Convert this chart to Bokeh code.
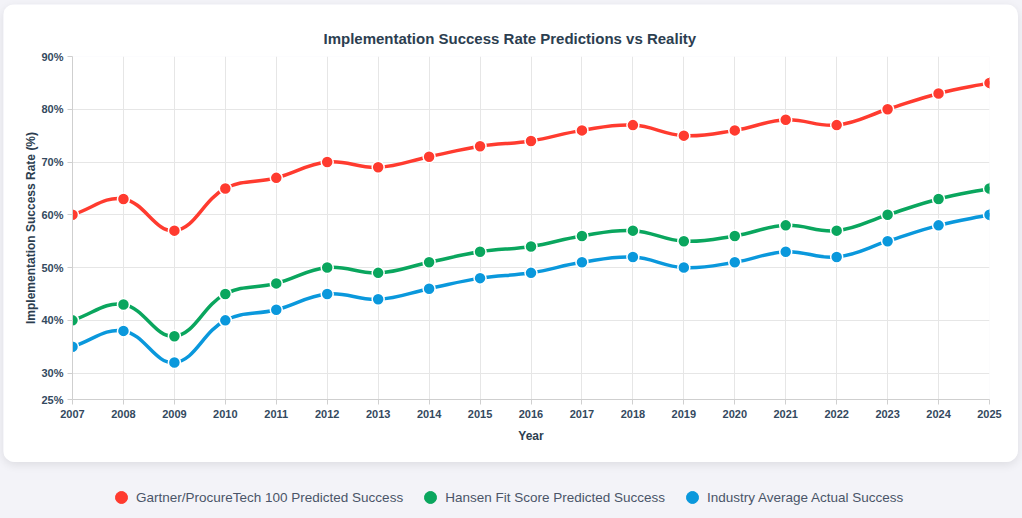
import numpy as np
from bokeh.plotting import figure
from bokeh.models import (Range1d, FixedTicker, PrintfTickFormatter, Legend,
                          LegendItem, ColumnDataSource)
from bokeh.layouts import column
from bokeh.embed import file_html
from bokeh.resources import INLINE

# ---------------- data ----------------
years = list(range(2007, 2026))
gartner = [60, 63, 57, 65, 67, 70, 69, 71, 73, 74, 76, 77, 75, 76, 78, 77, 80, 83, 85]
hansen = [40, 43, 37, 45, 47, 50, 49, 51, 53, 54, 56, 57, 55, 56, 58, 57, 60, 63, 65]
industry = [35, 38, 32, 40, 42, 45, 44, 46, 48, 49, 51, 52, 50, 51, 53, 52, 55, 58, 60]
y_ticks = [25, 30, 40, 50, 60, 70, 80, 90]
series_names = ["Gartner/ProcureTech 100 Predicted Success",
                "Hansen Fit Score Predicted Success",
                "Industry Average Actual Success"]
series_values = [gartner, hansen, industry]
colors = ["#FF3B2F", "#0AA65E", "#0A98DC"]

PAGE_BG = "#f3f3f8"
FONT = "Liberation Sans"

FRAME_W, FRAME_H = 917, 343
KX = FRAME_W / (years[-1] - years[0])
KY = FRAME_H / (y_ticks[-1] - y_ticks[0])


def spline_segments(xs, ys, tension=0.4):
    """Cardinal-style (Chart.js) bezier control points, computed in pixel space."""
    px = np.asarray(xs, float) * KX
    py = np.asarray(ys, float) * KY
    n = len(px)
    prv = np.zeros((n, 2))
    nxt = np.zeros((n, 2))
    for i in range(n):
        f = (px[i - 1], py[i - 1]) if i > 0 else (px[i], py[i])
        a = (px[i + 1], py[i + 1]) if i < n - 1 else (px[i], py[i])
        d01 = np.hypot(px[i] - f[0], py[i] - f[1])
        d12 = np.hypot(a[0] - px[i], a[1] - py[i])
        tot = d01 + d12
        s01 = d01 / tot if tot else 0.0
        s12 = d12 / tot if tot else 0.0
        fa, fb = tension * s01, tension * s12
        prv[i] = (px[i] - fa * (a[0] - f[0]), py[i] - fa * (a[1] - f[1]))
        nxt[i] = (px[i] + fb * (a[0] - f[0]), py[i] + fb * (a[1] - f[1]))
    return dict(
        x0=px[:-1] / KX, y0=py[:-1] / KY,
        x1=px[1:] / KX, y1=py[1:] / KY,
        cx0=nxt[:-1, 0] / KX, cy0=nxt[:-1, 1] / KY,
        cx1=prv[1:, 0] / KX, cy1=prv[1:, 1] / KY,
    )


# ---------------- chart (card) ----------------
p = figure(width=1015, height=458, output_backend="svg", toolbar_location=None,
           x_range=Range1d(years[0], years[-1]), y_range=Range1d(y_ticks[0], y_ticks[-1]),
           min_border_left=69, min_border_right=29, min_border_top=52, min_border_bottom=63,
           border_fill_color="white", background_fill_color="white",
           outline_line_color=None)
p.margin = (4, 4, 0, 3)
p.styles = {"border-radius": "12px", "overflow": "hidden",
            "box-shadow": "0 3px 10px rgba(0,0,0,0.09)"}

p.title.text = "Implementation Success Rate Predictions vs Reality"
p.title.align = "left"
p.title.offset = 251
p.title.text_font = FONT
p.title.text_font_size = "15px"
p.title.text_font_style = "bold"
p.title.text_color = "#2c3e50"
p.title.standoff = 20

p.xaxis.ticker = FixedTicker(ticks=years)
p.yaxis.ticker = FixedTicker(ticks=y_ticks)
p.yaxis.formatter = PrintfTickFormatter(format="%d%%")
p.xaxis.axis_label = "Year"
p.yaxis.axis_label = "Implementation Success Rate (%)"
for ax in (p.xaxis, p.yaxis):
    ax.major_label_text_font = FONT
    ax.major_label_text_font_size = "11px"
    ax.major_label_text_font_style = "bold"
    ax.major_label_text_color = "#34495e"
    ax.axis_label_text_font = FONT
    ax.axis_label_text_font_size = "12px"
    ax.axis_label_text_font_style = "bold"
    ax.axis_label_text_color = "#2c3e50"
    ax.axis_line_color = "#cfcfcf"
    ax.major_tick_line_color = "#cfcfcf"
    ax.major_tick_in = 0
    ax.major_tick_out = 5
    ax.minor_tick_line_color = None
p.yaxis.major_label_standoff = 4
p.yaxis.axis_label_standoff = 0
p.xaxis.axis_label_standoff = 8
p.grid.grid_line_color = "#e6e6e6"

for name, vals, col in zip(series_names, series_values, colors):
    src = ColumnDataSource(spline_segments(years, vals))
    p.bezier(x0="x0", y0="y0", x1="x1", y1="y1", cx0="cx0", cy0="cy0",
             cx1="cx1", cy1="cy1", source=src, line_color=col, line_width=3.5,
             line_cap="round")
for name, vals, col in zip(series_names, series_values, colors):
    p.scatter(years, vals, size=12, fill_color=col, line_color="white", line_width=1.5)

# ---------------- legend strip ----------------
lf = figure(width=1022, height=56, output_backend="svg", toolbar_location=None,
            x_range=Range1d(0, 1), y_range=Range1d(0, 1),
            x_axis_location=None, y_axis_location=None,
            min_border=0, outline_line_color=None,
            border_fill_alpha=0, background_fill_alpha=0)
lf.grid.visible = False
items = []
for name, vals, col in zip(series_names, series_values, colors):
    # proxy renderer: its point lies outside the strip's range, only the legend swatch shows
    r = lf.scatter(x=[years[0]], y=[vals[0]], size=12, fill_color=col, line_color=col)
    items.append(LegendItem(label=name, renderers=[r]))
legend = Legend(items=items, orientation="horizontal", location=(37, 6),
                background_fill_alpha=0, border_line_color=None,
                label_text_font=FONT, label_text_font_size="13.5px",
                label_text_color="#4a5568", glyph_width=30, glyph_height=30,
                label_standoff=-5, spacing=12, padding=0, margin=0)
lf.add_layout(legend, "center")

root = column(p, lf, spacing=0)
root.styles = {"background-color": PAGE_BG}

open("out.html", "w").write(file_html(root, INLINE))
